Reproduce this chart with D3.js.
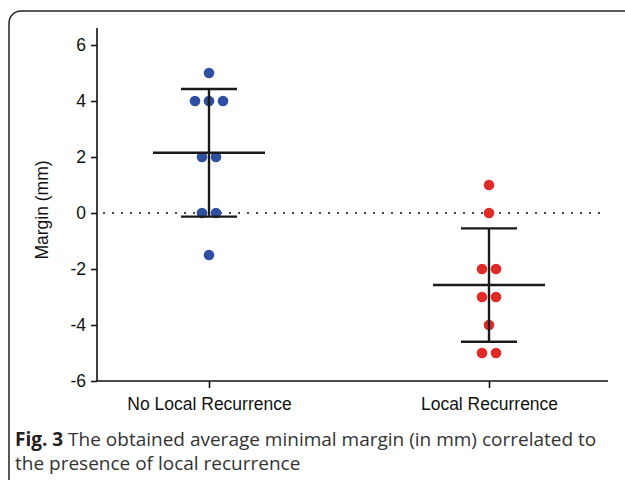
<!DOCTYPE html>
<html><head><meta charset="utf-8">
<script src="https://cdn.jsdelivr.net/npm/d3@7"></script>
<style>body{margin:0;background:#fff}svg{display:block}</style>
</head><body>
<svg id="c" width="625" height="480"></svg>
<script>
const categories = ["No Local Recurrence", "Local Recurrence"];
const noRecValues = [5, 4, 4, 4, 2, 2, 0, 0, -1.5];
const noRecOffsets = [0, -1, 0, 1, -0.5, 0.5, -0.5, 0.5, 0];
const recValues = [1, 0, -2, -2, -3, -3, -4, -5, -5];
const recOffsets = [0, 0, -0.5, 0.5, -0.5, 0.5, 0, -0.5, 0.5];
const means = [2.15, -2.57];
const sdUpper = [4.43, -0.55];
const sdLower = [-0.13, -4.6];
const yTicks = [-6, -4, -2, 0, 2, 4, 6];
const colors = ["#2f4fa3", "#e02a27"];

const FONT = "17.5px 'Liberation Sans', Arial, sans-serif";
const svg = d3.select("#c");
// panel border
svg.append("rect").attr("x", 9).attr("y", 11).attr("width", 640).attr("height", 500)
  .attr("rx", 12).attr("fill", "none").attr("stroke", "#222").attr("stroke-width", 1.5);

const y = d3.scaleLinear().domain([-6, 6]).range([381, 45]);
const x = d3.scalePoint().domain(categories).range([209, 489]);
const xAxisStart = 97, xAxisEnd = 608;

// y axis
const yAxis = d3.axisLeft(y).tickValues(yTicks).tickSize(6).tickPadding(5).tickFormat(d => String(d));
const gy = svg.append("g").attr("transform", `translate(${xAxisStart},0)`).call(yAxis);
gy.select(".domain").remove();
gy.append("line").attr("x1", 0).attr("x2", 0).attr("y1", 28).attr("y2", 381).attr("stroke", "#111").attr("stroke-width", 1.6);
gy.selectAll(".tick line").attr("stroke", "#111").attr("stroke-width", 1.6);
gy.selectAll(".tick text").attr("fill", "#111").style("font", FONT);

// x axis
const xAxis = d3.axisBottom(x).tickSize(7).tickPadding(8);
const gx = svg.append("g").attr("transform", "translate(0,381)").call(xAxis);
gx.select(".domain").remove();
gx.append("line").attr("x1", xAxisStart).attr("x2", xAxisEnd).attr("y1", 0).attr("y2", 0).attr("stroke", "#111").attr("stroke-width", 1.6);
gx.selectAll(".tick line").attr("stroke", "#111").attr("stroke-width", 1.6);
gx.selectAll(".tick text").attr("fill", "#111").attr("dy", "0.8em").style("font", FONT);

// y label
svg.append("text").attr("transform", `translate(48,${y(0) - 3}) rotate(-90)`)
  .attr("text-anchor", "middle").attr("fill", "#111")
  .style("font", FONT).text("Margin (mm)");

// zero dotted line
svg.append("line").attr("x1", 100).attr("x2", xAxisEnd).attr("y1", y(0)).attr("y2", y(0))
  .attr("stroke", "#222").attr("stroke-width", 2.2).attr("stroke-dasharray", "0 9").attr("stroke-linecap", "round")
  .attr("stroke-dashoffset", -4);

const dx = 14;
const groups = [
  {cat: categories[0], vals: noRecValues, offs: noRecOffsets, color: colors[0]},
  {cat: categories[1], vals: recValues, offs: recOffsets, color: colors[1]}
];
groups.forEach((g, i) => {
  svg.append("g").selectAll("circle").data(g.vals).join("circle")
    .attr("cx", (d, j) => x(g.cat) + g.offs[j] * dx)
    .attr("cy", d => y(d)).attr("r", 5.3).attr("fill", g.color);
  const cx = x(g.cat);
  const err = svg.append("g").attr("stroke", "#1a1a1a").attr("stroke-width", 2.4);
  err.append("line").attr("x1", cx).attr("x2", cx).attr("y1", y(sdUpper[i])).attr("y2", y(sdLower[i]));
  err.append("line").attr("x1", cx - 56).attr("x2", cx + 56).attr("y1", y(means[i])).attr("y2", y(means[i]));
  [sdUpper[i], sdLower[i]].forEach(v => {
    err.append("line").attr("x1", cx - 28).attr("x2", cx + 28).attr("y1", y(v)).attr("y2", y(v));
  });
});

// caption
const CAP = "19px 'Open Sans', sans-serif";
const cap = svg.append("text").attr("x", 15).attr("y", 446).attr("fill", "#333")
  .style("font", CAP);
cap.append("tspan").attr("font-weight", "bold").attr("fill", "#231f20").text("Fig. 3");
cap.append("tspan").text(" The obtained average minimal margin (in mm) correlated to");
svg.append("text").attr("x", 15).attr("y", 470).attr("fill", "#333")
  .style("font", CAP).text("the presence of local recurrence");
</script>
</body></html>
